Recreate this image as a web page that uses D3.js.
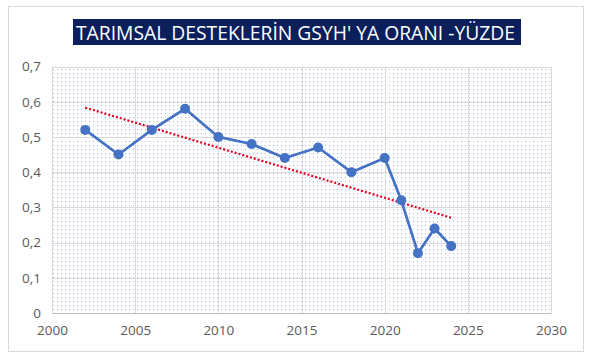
<!DOCTYPE html>
<html><head><meta charset="utf-8">
<script src="https://cdn.jsdelivr.net/npm/d3@7"></script>
<style>html,body{margin:0;padding:0;background:#fff;}svg{display:block;}</style>
</head><body>
<script>
const titleText = "TARIMSAL DESTEKLERİN GSYH' YA ORANI -YÜZDE";
const years = [2002, 2004, 2006, 2008, 2010, 2012, 2014, 2016, 2018, 2020, 2021, 2022, 2023, 2024];
const values = [0.52, 0.45, 0.52, 0.58, 0.50, 0.48, 0.44, 0.47, 0.40, 0.44, 0.32, 0.17, 0.24, 0.19];
const xTicks = [2000, 2005, 2010, 2015, 2020, 2025, 2030];
const yTicks = [0, 0.1, 0.2, 0.3, 0.4, 0.5, 0.6, 0.7];

const W = 592, H = 359;
const svg = d3.select("body").append("svg").attr("width", W).attr("height", H);
const font = "'Open Sans', 'Noto Sans', sans-serif";

// outer frame
svg.append("rect").attr("x", 8.5).attr("y", 6.5).attr("width", 575).attr("height", 345)
  .attr("fill", "#fff").attr("stroke", "#d9d9d9").attr("stroke-width", 1);

const x = d3.scaleLinear().domain([2000, 2030]).range([52, 551]);
const y = d3.scaleLinear().domain([0, 0.7]).range([313, 66.5]);

const defs = svg.append("defs");
const pat = defs.append("pattern").attr("id", "dots").attr("patternUnits", "userSpaceOnUse")
  .attr("width", 4).attr("height", 4);
pat.append("rect").attr("x", 1).attr("y", 1).attr("width", 1).attr("height", 1).attr("fill", "#a3b5e6");

// plot background
svg.append("rect").attr("x", x(2000)).attr("y", y(0.7)).attr("width", x(2030) - x(2000)).attr("height", y(0) - y(0.7))
  .attr("fill", "url(#dots)");

// gridlines
svg.append("g").selectAll("line.h").data(yTicks).join("line")
  .attr("x1", x(2000)).attr("x2", x(2030)).attr("y1", d => Math.round(y(d)) + 0.5).attr("y2", d => Math.round(y(d)) + 0.5)
  .attr("stroke", "#d9d9d9").attr("stroke-width", 1);
svg.append("g").selectAll("line.v").data(xTicks).join("line")
  .attr("y1", y(0.7)).attr("y2", y(0)).attr("x1", d => Math.round(x(d)) + 0.5).attr("x2", d => Math.round(x(d)) + 0.5)
  .attr("stroke", "#d9d9d9").attr("stroke-width", 1);

// axes labels via d3 axes
const yAxis = svg.append("g").attr("transform", `translate(${x(2000)},0)`)
  .call(d3.axisLeft(y).tickValues(yTicks).tickSize(0).tickPadding(11)
    .tickFormat(d => d === 0 ? "0" : d3.format(".1f")(d).replace(".", ",")));
yAxis.select(".domain").remove();
yAxis.selectAll("text").attr("font-family", font).attr("font-size", 13.5).attr("fill", "#595959");

const xAxis = svg.append("g").attr("transform", `translate(0,${y(0)})`)
  .call(d3.axisBottom(x).tickValues(xTicks).tickSize(0).tickPadding(12).tickFormat(d3.format("d")));
xAxis.select(".domain").attr("stroke", "#bfbfbf");
xAxis.selectAll("text").attr("font-family", font).attr("font-size", 13.5).attr("fill", "#595959");

// trend line (least squares)
const mx = d3.mean(years), my = d3.mean(values);
const slope = d3.sum(years.map((v, i) => (v - mx) * (values[i] - my))) / d3.sum(years.map(v => (v - mx) ** 2));
const icpt = my - slope * mx;
const x0 = d3.min(years), x1 = d3.max(years);
svg.append("line")
  .attr("x1", x(x0)).attr("y1", y(icpt + slope * x0))
  .attr("x2", x(x1)).attr("y2", y(icpt + slope * x1))
  .attr("stroke", "#e8001c").attr("stroke-width", 2.2).attr("stroke-dasharray", "2,2");

// data line
const data = years.map((v, i) => ({ x: v, y: values[i] }));
svg.append("path").datum(data)
  .attr("d", d3.line().x(d => x(d.x)).y(d => y(d.y)))
  .attr("fill", "none").attr("stroke", "#4472c4").attr("stroke-width", 2.7).attr("stroke-linejoin", "round");
svg.append("g").selectAll("circle").data(data).join("circle")
  .attr("cx", d => x(d.x)).attr("cy", d => y(d.y)).attr("r", 5).attr("fill", "#4472c4");

// title
svg.append("rect").attr("x", 73).attr("y", 19).attr("width", 448).attr("height", 26).attr("fill", "#0b1f5c");
svg.append("text").attr("x", 76).attr("y", 39.5).attr("font-family", font).attr("font-size", 20)
  .attr("fill", "#fff").attr("textLength", 439).attr("lengthAdjust", "spacingAndGlyphs").text(titleText);
</script>
</body></html>
